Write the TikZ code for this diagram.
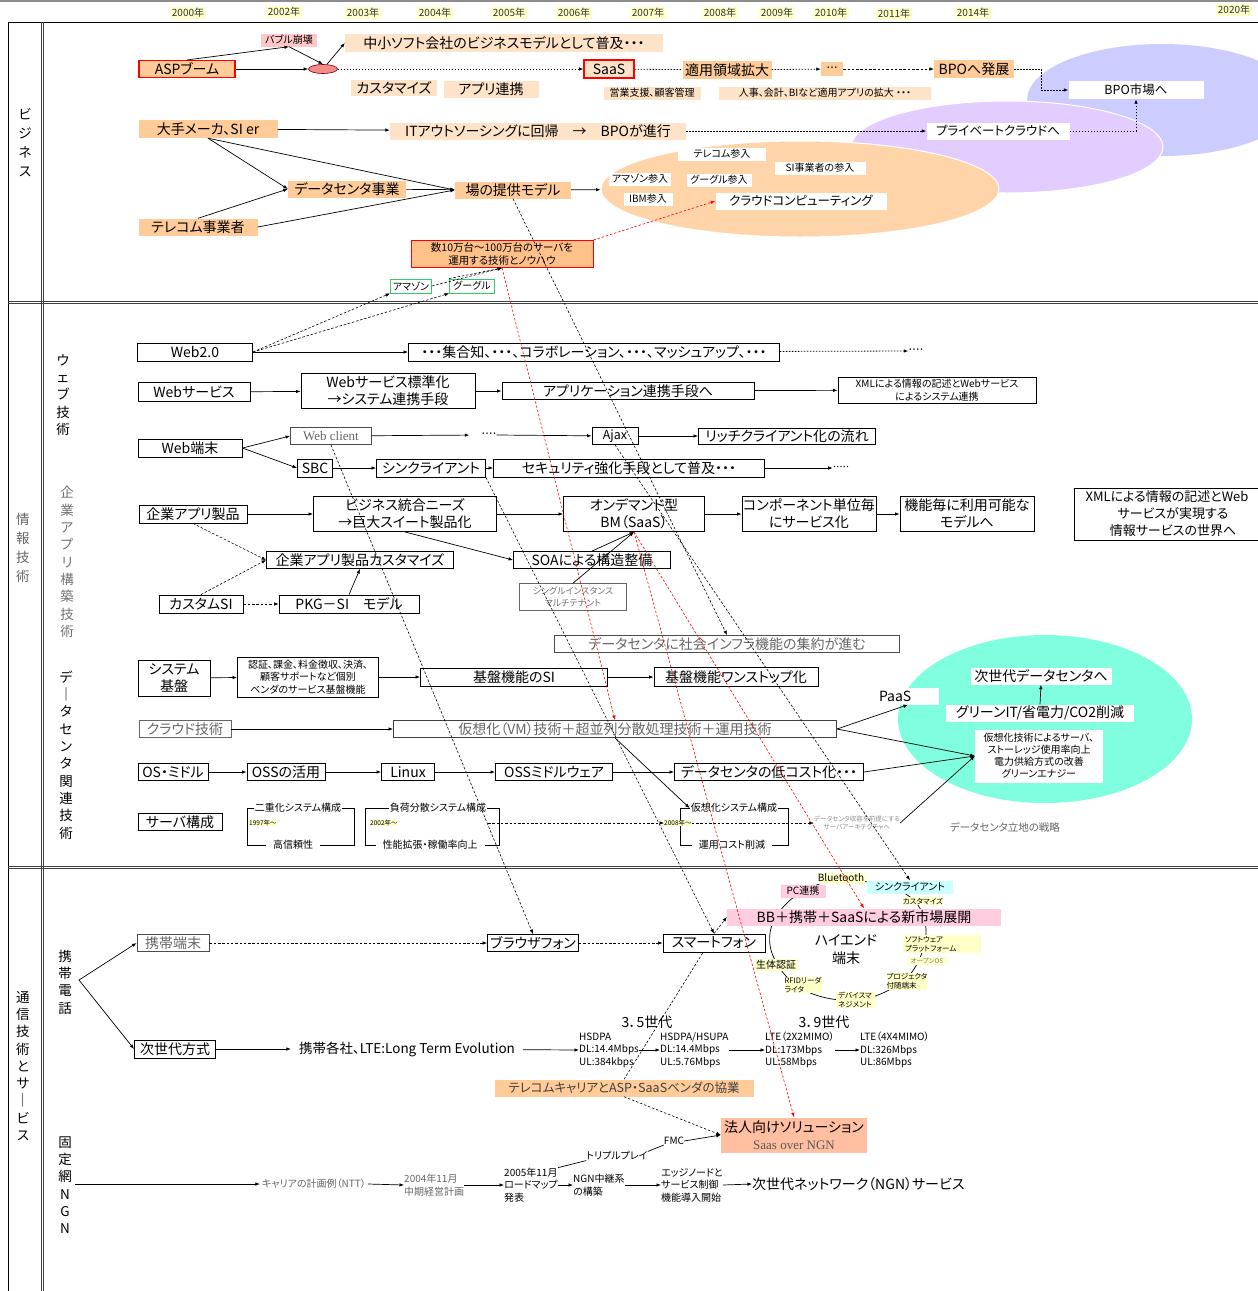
\documentclass[tikz,border=0pt]{standalone}
\usepackage{fontspec}
\setmainfont[RawFeature=+palt]{Noto Sans CJK JP}
\newfontfamily\latinserif{Liberation Serif}
\usetikzlibrary{arrows.meta,calc,shapes.geometric}

\definecolor{orA}{HTML}{FFCC99}
\definecolor{orB}{HTML}{FFE3C8}
\definecolor{yel}{HTML}{FFFFC8}
\definecolor{pnk}{HTML}{FFC8C8}
\definecolor{pnkB}{HTML}{FFCCE0}
\definecolor{cyn}{HTML}{CCFFFF}
\definecolor{elBlue}{HTML}{CCCCFF}
\definecolor{elPurp}{HTML}{E3CCFF}
\definecolor{elOr}{HTML}{FFD4A8}
\definecolor{elCyan}{HTML}{80FFDE}
\definecolor{salmon}{HTML}{FFBFA0}
\definecolor{ellRed}{HTML}{F28C8C}
\definecolor{kosu}{HTML}{FFC08A}
\definecolor{frameG}{HTML}{33CC66}

\newcommand\txA{\fontsize{14}{17}\selectfont}
\newcommand\txB{\fontsize{12.5}{15}\selectfont}
\newcommand\txC{\fontsize{10}{12.5}\selectfont}
\newcommand\txD{\fontsize{7.5}{9}\selectfont}
\newcommand\txE{\fontsize{6.5}{8}\selectfont}
\newcommand\txV{\fontsize{13.5}{17.3}\selectfont}
\newcommand\txW{\fontsize{13.5}{19}\selectfont}

\tikzset{
  bx/.style={draw, line width=0.9pt, fill=white, inner sep=0pt, font=\txA, align=center},
  sz/.style 2 args={minimum width=#1, minimum height=#2},
  ptxt/.style={inner sep=0pt, align=center, font=\txA},
  yr/.style={fill=yel, inner xsep=1.5pt, inner ysep=1pt, font=\txC, text=black!80},
  arr/.style={-{Latex[length=4.5pt,width=3.5pt]}, line width=0.7pt},
  ln/.style={line width=0.7pt},
  dsh/.style={dash pattern=on 2.5pt off 1.8pt, line width=0.6pt},
  dtd/.style={dash pattern=on 1.5pt off 1.5pt, line width=0.8pt},
  vt/.style={font=\txV, align=center, inner sep=0pt},
  ringlab/.style={fill=yel, inner sep=0pt, align=center, font=\txD},
  rule/.style={black!75, line width=0.9pt},
}

\begin{document}
\begin{tikzpicture}[x=1pt,y=-1pt]
\useasboundingbox (0,0) rectangle (1258,1291);
\clip (0,0) rectangle (1258,1291);
\fill[white] (0,0) rectangle (1258,1291);

% ---------- frame ----------
\draw[black!45, line width=1.6pt] (0,1) -- (1258,1);
\draw[line width=0.9pt] (8,22) -- (1258,22);
\draw[line width=0.9pt] (8,22) -- (8,1291);
\draw[rule] (41,22) -- (41,1291);
\draw[rule] (43.5,22) -- (43.5,1291);
\draw[rule] (8,301) -- (1258,301);
\draw[rule] (8,303.5) -- (1258,303.5);
\draw[rule] (8,866) -- (1258,866);
\draw[rule] (8,868.5) -- (1258,868.5);

% ---------- years ----------
\node[yr] (y2000) at (188,13) {2000年};
\node[yr] (y2002) at (284,12) {2002年};
\node[yr] (y2003) at (363,13) {2003年};
\node[yr] (y2004) at (435,13) {2004年};
\node[yr] (y2005) at (509,13) {2005年};
\node[yr] (y2006) at (574,13) {2006年};
\node[yr] (y2007) at (648,13) {2007年};
\node[yr] (y2008) at (720,13) {2008年};
\node[yr] (y2009) at (777,13) {2009年};
\node[yr] (y2010) at (831,13) {2010年};
\node[yr] (y2011) at (894,14) {2011年};
\node[yr] (y2014) at (973,13) {2014年};
\node[yr] (y2020) at (1234,10) {2020年};

% ---------- background ellipses ----------
\node[ellipse, fill=elBlue, inner sep=0pt, minimum width=270, minimum height=112] (bpoEl) at (1162,100) {};
\node[ellipse, fill=elPurp, draw=white, line width=1pt, inner sep=0pt, minimum width=312, minimum height=92] (privEl) at (1007,147) {};
\node[ellipse, fill=elOr, draw=white, line width=1pt, inner sep=0pt, minimum width=398, minimum height=96] (cloudEl) at (800,189) {};
\node[ellipse, fill=elCyan, inner sep=0pt, minimum width=294, minimum height=168] (dcEl) at (1045,719) {};

% ring around the high-end handset
\draw[line width=0.7pt] plot[smooth cycle, tension=0.6] coordinates {(788,902) (812,887) (840,879) (872,883) (904,893) (921,910) (926,935) (918,962) (902,982) (872,997) (840,1000) (808,992) (785,975) (771,950) (772,925)};

% server configuration brackets
\draw[ln] (247,808) rectangle (354,845);
\draw[ln] (365,808) rectangle (499,845);
\draw[ln] (680,808) rectangle (788,845);

% ---------- section labels ----------
\node[vt, font=\txW] (lbBiz) at (25,143) {ビ\\ジ\\ネ\\ス};
\node[vt, font=\txW, text=black!60] (lbInfo) at (23,548) {情\\報\\技\\術};
\node[vt] (lbCom) at (23,1066) {通\\信\\技\\術\\と\\サ\\｜\\ビ\\ス};
\node[vt] (lbWeb) at (63,395) {ウ\\ェ\\ブ\\技\\術};
\node[vt, text=black!55] (lbEnt) at (67,562) {企\\業\\ア\\プ\\リ\\構\\築\\技\\術};
\node[vt] (lbDC) at (66,755) {デ\\｜\\タ\\セ\\ン\\タ\\関\\連\\技\\術};
\node[vt] (lbKt) at (65,982) {携\\帯\\電\\話};
\node[vt] (lbNgn) at (65,1185) {固\\定\\網\\N\\G\\N};

% ---------- business ----------
\node[bx, draw=red, line width=1.1pt, fill=orA, sz={96}{17}] (asp) at (187,69) {ASPブーム};
\node[ptxt, fill=pnk, sz={56}{13}, font=\txC] (bubble) at (289,40) {バブル崩壊};
\node[ellipse, draw=red!50!black, fill=ellRed, line width=0.6pt, minimum width=29, minimum height=9, inner sep=0pt] (eln) at (323,69) {};
\node[ptxt, fill=orB, sz={318}{18}] (chusho) at (504,43) {中小ソフト会社のビジネスモデルとして普及・・・};
\node[ptxt, fill=orB, sz={86}{16}] (cst) at (394,88) {カスタマイズ};
\node[ptxt, fill=orB, sz={95}{17}] (apr) at (491,89) {アプリ連携};
\node[bx, draw=red, line width=1.1pt, fill=orB, sz={50}{18}] (saas) at (609,69) {SaaS};
\node[ptxt, fill=orA, sz={89}{18}] (tekiyo) at (727,70) {適用領域拡大};
\node[ptxt, fill=orA, sz={22}{14}, font=\txD] (dots1) at (832,69) {・・・};
\node[ptxt, fill=orA, sz={80}{18}] (bpoh) at (974,69) {BPOへ発展};
\node[ptxt, fill=orB, sz={97}{13}, font=\txC] (eigyo) at (652,93) {営業支援、顧客管理};
\node[ptxt, fill=orB, sz={212}{13}, font=\txC] (jinji) at (825,93) {人事、会計、BIなど適用アプリの拡大 ・・・};
\node[ptxt, fill=white, sz={135}{18}, font=\txB] (bpomkt) at (1136,90) {BPO市場へ};
\node[ptxt, fill=orA, sz={139}{18}] (ohte) at (208,129) {大手メーカ、SI er};
\node[ptxt, fill=orB, sz={296}{17}] (itout) at (538,131) {ITアウトソーシングに回帰\quad→\quad BPOが進行};
\node[ptxt, fill=white, sz={143}{17}, font=\txB] (priv) at (998,131) {プライベートクラウドへ};
\node[ptxt, fill=orA, sz={118}{17}] (dcj) at (347,189) {データセンタ事業};
\node[ptxt, fill=orA, sz={116}{17}] (ba) at (513,190) {場の提供モデル};
\node[ptxt, fill=orA, sz={119}{17}] (tel) at (198,227) {テレコム事業者};
\node[ptxt, fill=white, sz={88}{13}, font=\txC] (telS) at (722,154) {テレコム参入};
\node[ptxt, fill=white, sz={91}{13}, font=\txC] (siS) at (820,168) {SI事業者の参入};
\node[ptxt, fill=white, sz={62}{13}, font=\txC] (amzS) at (640,179) {アマゾン参入};
\node[ptxt, fill=white, sz={65}{13}, font=\txC] (gogS) at (719,180) {グーグル参入};
\node[ptxt, fill=white, sz={49}{13}, font=\txC] (ibmS) at (648,199) {IBM参入};
\node[ptxt, fill=white, sz={171}{17}, font=\txB] (cloud) at (801,201) {クラウドコンピューティング};
\node[bx, draw=red, line width=1pt, fill=kosu, sz={182}{27}, font=\fontsize{10.5}{12.5}\selectfont] (suju) at (502,254) {数10万台～100万台のサーバを\\運用する技術とノウハウ};
\node[bx, draw=frameG, line width=0.8pt, sz={41}{14}, font=\txC] (amz) at (411,286) {アマゾン};
\node[bx, draw=frameG, line width=0.8pt, sz={45}{14}, font=\txC] (gog) at (472,286) {グーグル};

% ---------- web technology ----------
\node[bx, sz={115}{18}] (web20) at (195,352) {Web2.0};
\node[bx, sz={371}{18}] (shugo) at (594,352) {・・・集合知、・・・、コラボレーション、・・・、マッシュアップ、・・・};
\node[ptxt, font=\txD] (dots2) at (916,351) {・・・・};
\node[bx, sz={112}{19}] (wsv) at (194,392) {Webサービス};
\node[bx, sz={174}{35}] (wstd) at (388,391) {Webサービス標準化\\→システム連携手段};
\node[bx, sz={252}{17}] (aplink) at (628,391) {アプリケーション連携手段へ};
\node[bx, sz={198}{26}, font=\txC] (xmlsm) at (937,390) {XMLによる情報の記述とWebサービス\\によるシステム連携};
\node[bx, sz={104}{18}] (webterm) at (190,448) {Web端末};
\node[bx, sz={81}{17}, draw=black!70, font=\latinserif\fontsize{13}{15}\selectfont, text=black!60] (wclient) at (331,436) {Web client};
\node[ptxt, font=\txD] (dots3) at (489,435) {・・・・};
\node[bx, sz={46}{17}, font=\txB] (ajax) at (615,436) {Ajax};
\node[bx, sz={177}{16}] (rich) at (787,436) {リッチクライアント化の流れ};
\node[bx, sz={35}{18}] (sbc) at (315,468) {SBC};
\node[bx, sz={109}{18}] (thin) at (431,468) {シンクライアント};
\node[bx, sz={271}{18}] (secu) at (629,468) {セキュリティ強化手段として普及・・・};
\node[ptxt, font=\txE] (dots4) at (841,468) {・・・・・};
\node[bx, sz={198}{52}, font=\fontsize{13}{17}\selectfont] (xmlbig) at (1173,514) {\makebox[176pt][c]{XMLによる情報の記述とWeb}\hspace*{12pt}\\サービスが実現する\\情報サービスの世界へ};

% ---------- enterprise application ----------
\node[bx, sz={108}{18}] (kigyo) at (193,514) {企業アプリ製品};
\node[bx, sz={183}{35}] (bizint) at (405,514) {ビジネス統合ニーズ\\→巨大スイート製品化};
\node[bx, sz={141}{35}] (bm) at (634,514) {オンデマンド型\\BM（SaaS）};
\node[bx, sz={134}{35}] (comp) at (809,514) {コンポーネント単位毎\\にサービス化};
\node[bx, sz={134}{35}] (kino) at (967,514) {機能毎に利用可能な\\モデルへ};
\node[bx, sz={187}{17}] (kcust) at (360,560) {企業アプリ製品カスタマイズ};
\node[bx, sz={157}{17}] (soa) at (592,560) {SOAによる構造整備};
\node[bx, sz={107}{27}, draw=black!60, line width=0.7pt, font=\fontsize{9}{11.5}\selectfont, text=black!55] (single) at (573,597) {シングルインスタンス\\マルチテナント};
\node[bx, sz={84}{18}] (custsi) at (201,604) {カスタムSI};
\node[bx, sz={140}{18}] (pkg) at (349,604) {PKG－SI　モデル};
\node[bx, sz={345}{17}, draw=black!70, text=black!60] (dcinfra) at (727,644) {データセンタに社会インフラ機能の集約が進む};

% ---------- data center ----------
\node[bx, sz={72}{36}] (sysb) at (174,678) {システム\\基盤};
\node[bx, sz={141}{40}, font=\txC] (ninsho) at (308,677) {認証、課金、料金徴収、決済、\\顧客サポートなど個別\\ベンダのサービス基盤機能};
\node[bx, sz={187}{18}] (kibanSI) at (514,677) {基盤機能のSI};
\node[bx, sz={164}{19}] (onestop) at (736,677) {基盤機能ワンストップ化};
\node[bx, sz={92}{17}, draw=black!60, text=black!60] (cloudtech) at (185,729) {クラウド技術};
\node[bx, sz={443}{17}, draw=black!75, text=black!60] (vm) at (615,729) {仮想化（VM）技術＋超並列分散処理技術＋運用技術};
\node[bx, sz={70}{17}] (osm) at (173,772) {OS・ミドル};
\node[bx, sz={78}{17}] (oss) at (286,772) {OSSの活用};
\node[bx, sz={53}{17}] (linux) at (408,772) {Linux};
\node[bx, sz={117}{17}] (ossmw) at (554,772) {OSSミドルウェア};
\node[bx, sz={189}{17}] (lowcost) at (769,772) {データセンタの低コスト化・・・};
\node[bx, sz={84}{17}] (server) at (180,822) {サーバ構成};

\node[ptxt, fill=white, font=\txC, inner xsep=1pt] (dual) at (298,808) {二重化システム構成};
\node[ptxt, fill=white, font=\txC, inner xsep=7pt] (hirel) at (293,845) {高信頼性};
\node[ptxt, fill=yel, font=\txE, anchor=west] (y1997) at (249,823) {1997年～};
\node[ptxt, fill=white, font=\txC, inner xsep=1pt] (load) at (438,808) {負荷分散システム構成};
\node[ptxt, fill=white, font=\txC, inner xsep=7pt] (perf) at (430,845) {性能拡張・稼働率向上};
\node[ptxt, fill=yel, font=\txE, anchor=west] (y2002b) at (370,823) {2002年～};
\node[ptxt, fill=white, font=\txC, inner xsep=1pt] (kasoSys) at (734,808) {仮想化システム構成};
\node[ptxt, fill=white, font=\txC, inner xsep=7pt] (unyo) at (732,845) {運用コスト削減};
\node[ptxt, fill=yel, font=\txE, anchor=west] (y2008b) at (664,823) {2008年～};
\coordinate (b2end) at (488,823);
\node[ptxt, font=\txE, text=black!45] (srvarch) at (857,823) {データセンタ収容を前提にする\\サーバアーキテクチャへ};
\node[ptxt, font=\fontsize{10.5}{12}\selectfont, text=black!60] (ritchi) at (1005,827) {データセンタ立地の戦略};

\node[ptxt, fill=white, sz={62}{17}] (paas) at (908,696) {\makebox[58pt][l]{PaaS}};
\node[ptxt, fill=white, sz={141}{17}] (nextdc) at (1041,676) {次世代データセンタへ};
\node[ptxt, fill=white, sz={188}{17}] (green) at (1040,713) {グリーンIT/省電力/CO2削減};
\node[ptxt, fill=white, sz={128}{53}, font=\fontsize{10}{12}\selectfont] (virt) at (1039,756) {仮想化技術によるサーバ、\\ストーレッジ使用率向上\\電力供給方式の改善\\グリーンエナジー};

% ---------- mobile / network ----------
\coordinate (kbr) at (79,980);
\node[bx, sz={72}{17}, draw=black!70, text=black!60] (ktai) at (173,943) {携帯端末};
\node[bx, sz={91}{17}] (browser) at (533,943) {ブラウザフォン};
\node[bx, sz={102}{18}] (smart) at (714,943) {スマートフォン};
\node[bx, sz={81}{18}] (jisedai) at (175,1049) {次世代方式};
\node[ptxt, font=\fontsize{13.5}{16}\selectfont, inner xsep=8pt] (lte) at (407,1049) {携帯各社、LTE:Long Term Evolution};
\node[ptxt, font=\txC, align=left, anchor=west] (hs1) at (579,1050) {HSDPA\\DL:14.4Mbps\\UL:384kbps};
\node[ptxt, font=\txC, align=left, anchor=west] (hs2) at (660,1050) {HSDPA/HSUPA\\DL:14.4Mbps\\UL:5.76Mbps};
\node[ptxt, font=\txC, align=left, anchor=west] (lte2) at (765,1050) {LTE（2X2MIMO）\\DL:173Mbps\\UL:58Mbps};
\node[ptxt, font=\txC, align=left, anchor=west] (lte4) at (860,1050) {LTE（4X4MIMO）\\DL:326Mbps\\UL:86Mbps};
\node[ptxt] (g35) at (647,1022) {3．5世代};
\node[ptxt] (g39) at (824,1022) {3．9世代};
\node[ptxt, fill=orA, sz={259}{17}, font=\txB, text=black!75] (telco) at (624,1088) {テレコムキャリアとASP・SaaSベンダの協業};
\node[ptxt, fill=salmon, sz={146}{35}] (hojin) at (794,1135) {法人向けソリューション\\{\latinserif\fontsize{13}{15}\selectfont\color{black!65}Saas over NGN}};

\node[ptxt, fill=pnkB, sz={45}{13}, font=\txC] (pc) at (803,891) {PC連携};
\node[ringlab, sz={47}{11}, font=\txC] (bt) at (841,878) {Bluetooth};
\node[ptxt, fill=cyn, sz={86}{13}, font=\txC] (thinc) at (910,887) {シンクライアント};
\node[ringlab, sz={40}{8}] (kcus2) at (923,901) {カスタマイズ};
\node[ptxt, fill=pnkB, sz={274}{17}] (bbnew) at (864,917) {BB＋携帯＋SaaSによる新市場展開};
\node[ptxt, font=\fontsize{14}{18}\selectfont] (hiend) at (846,950) {ハイエンド\\端末};
\node[ringlab, sz={43}{12}, font=\txC] (seitai) at (776,965) {生体認証};
\node[ringlab, sz={37}{16}, align=left] (rfid) at (803,985) {RFIDリーダ\\ライタ};
\node[ringlab, sz={39}{15}, align=left] (device) at (855,1000) {デバイスマ\\ネジメント};
\node[ringlab, sz={38}{17}, align=left] (proj) at (907,981) {プロジェクタ\\付随端末};
\node[ringlab, sz={39}{8}, font=\txE, text=black!50] (openos) at (927,961) {オープンOS};
\node[ringlab, sz={78}{18}, align=left] (soft) at (942,944) {\makebox[74pt][l]{ソフトウェア}\\プラットフォーム};

\coordinate (ngnS) at (75,1184);
\node[ptxt, font=\txC, text=black!60, inner xsep=2pt] (carrier) at (314,1184) {キャリアの計画例（NTT）};
\node[ptxt, font=\txC, text=black!60, align=left, anchor=west] (chuki) at (404,1185) {2004年11月\\中期経営計画};
\node[ptxt, font=\txC, align=left, anchor=west] (road) at (504,1185) {2005年11月\\ロードマップ\\発表};
\node[ptxt, font=\txC, align=left, anchor=west] (ngnchu) at (573,1185) {NGN中継系\\の構築};
\node[ptxt, font=\txC, align=left, anchor=west] (edgeN) at (661,1185) {エッジノードと\\サービス制御\\機能導入開始};
\node[ptxt, anchor=west] (ngnsv) at (752,1184) {次世代ネットワーク（NGN）サービス};
\node[ptxt, font=\txC] (triple) at (617,1156) {トリプルプレイ};
\node[ptxt, font=\txC] (fmc) at (674,1141) {FMC};

% ---------- connectors: business ----------
\draw[arr] (asp) -- (eln);
\draw[arr] (asp.north) -- (bubble.south);
\draw[arr] (bubble.south) -- (eln.north);
\draw[arr] (eln) -- (chusho.west);
\draw[arr, dtd] (eln) -- (saas);
\draw[dtd] (saas) -- (tekiyo);
\draw[arr, dtd] (tekiyo) -- (dots1);
\draw[arr, dsh] (dots1) -- (bpoh);
\draw[arr, dtd] (bpoh.east) -- ++(27,0) |- (bpomkt.west);
\draw[arr] (ohte) -- (itout);
\draw[arr, dtd] (itout) -- (priv);
\draw[arr, dtd] (priv.east) -| (bpomkt.south);
\draw[arr] (ohte.south) -- (dcj.west);
\draw[arr] (ohte.south) -- (ba.west);
\draw[arr] (tel.north) -- (dcj.west);
\draw[arr] (tel.east) -- (ba.west);
\draw[arr] (dcj) -- (ba);
\draw[arr] (ba) -- (cloudEl);
\draw[arr, dsh, red] (suju.north east) -- (cloud.west);
\draw[arr, dsh] (web20.east) -- (amz.south west);
\draw[arr, dsh] (web20.east) -- (gog.south west);
\draw[arr, dsh] (amz.east) -- (suju.south);
\draw[arr, dsh] (gog.north west) -- (suju.south);

% ---------- connectors: web / enterprise ----------
\draw[arr] (web20) -- (shugo);
\draw[arr, dtd] (shugo) -- (dots2.west);
\draw[arr] (wsv) -- (wstd);
\draw[arr] (wstd) -- (aplink);
\draw[arr] (aplink) -- (xmlsm);
\draw[arr] (webterm.east) -- (wclient.west);
\draw[arr] (webterm.east) -- (sbc.west);
\draw[arr, shorten >=12pt] (wclient) -- (dots3.west);
\draw[arr] (dots3.east) -- (ajax);
\draw[arr] (ajax) -- (rich);
\draw[arr] (sbc) -- (thin);
\draw[arr] (thin) -- (secu);
\draw[arr] (secu) -- (dots4.west);
\draw[arr] (kigyo) -- (bizint);
\draw[arr] (bizint) -- (bm);
\draw[arr] (bm) -- (comp);
\draw[arr] (comp) -- (kino);
\draw[arr] (bizint.south) -- (soa.west);
\draw[arr, dsh] (kigyo.south) -- (kcust.west);
\draw[arr, dsh] (custsi.north) -- (kcust.west);
\draw[arr, dsh] (custsi) -- (pkg);
\draw[arr] (pkg.north) -- (kcust.south);
\draw[arr] (soa.north) -- (bm.south);
\draw[arr] (single.north) -- (bm.south);

% ---------- connectors: data center ----------
\draw[arr] (sysb) -- (ninsho);
\draw[arr] (ninsho) -- (kibanSI);
\draw[arr] (kibanSI) -- (onestop);
\draw[arr] (cloudtech) -- (vm);
\draw[arr] (osm) -- (oss);
\draw[arr] (oss) -- (linux);
\draw[arr] (linux) -- (ossmw);
\draw[arr] (ossmw) -- (lowcost);
\draw[arr] (vm.east) -- (paas.south);
\draw[arr] (vm.east) -- (virt.west);
\draw[arr] (lowcost.east) -- (virt.west);
\draw[arr] (srvarch.east) -- (virt.west);
\draw[arr] (vm.south) -- (kasoSys.west);
\draw[arr] (green.north) -- (nextdc.south);
\draw[arr, dsh] (b2end) -- (y2008b.west);
\draw[arr, dsh] (y2008b.east) -- (srvarch.west);

% ---------- connectors: mobile / network ----------
\draw[arr] (kbr) -- (ktai.west);
\draw[arr] (kbr) -- (jisedai.west);
\draw[arr, dsh] (ktai) -- (browser);
\draw[arr, dsh] (browser) -- (smart);
\draw[arr, dsh] (smart.north) -- (bbnew.west);
\draw[arr] (jisedai) -- (lte);
\draw[arr] (lte) -- (hs1.west);
\draw[arr] (hs1.east) -- (hs2.west);
\draw[arr] (hs2.east) -- (lte2.west);
\draw[arr] (lte2.east) -- (lte4.west);
\draw[dsh] (telco.north) -- ($(smart.south)+(-11,0)$);
\draw[arr, dsh] (telco.south) -- (hojin.west);
\draw[arr] (ngnS) -- (carrier.west);
\draw[arr] (carrier.east) -- (chuki.west);
\draw[arr] (chuki.east) -- (road.west);
\draw[arr] (road.east) -- (ngnchu.west);
\draw[arr] (ngnchu.east) -- (edgeN.west);
\draw[arr] (edgeN.east) -- (ngnsv.west);
\draw[ln] (road.north east) -- (triple.south west);
\draw[ln] (triple.north east) -- (fmc.south west);
\draw[arr] (fmc.east) -- (hojin.west);

% ---------- long cross-section links ----------
\draw[arr, dsh] (ba.south) -- (dcinfra.north);
\draw[arr, dsh] (ajax.south) -- (thinc.north);
\draw[arr, dsh] (thin.south east) -- (smart.north);
\draw[arr, dsh] (wclient.south) -- (browser.north);
\draw[arr, dsh, red] (suju.south) -- (vm.north);
\draw[arr, dsh, red] (bm.south) -- (hojin.north);
\draw[arr, dsh, red] (bm.south) -- (bbnew.north);
\end{tikzpicture}
\end{document}
